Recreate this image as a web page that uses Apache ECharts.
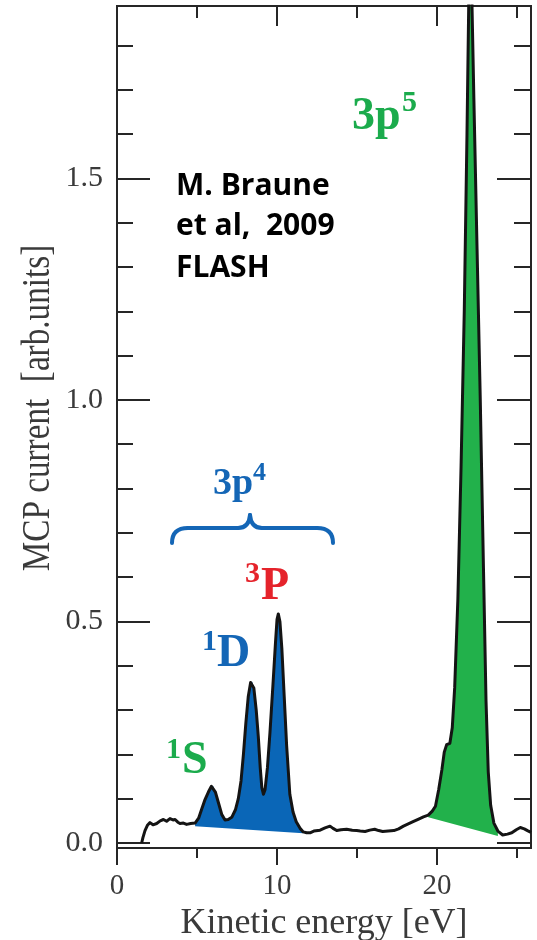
<!DOCTYPE html>
<html>
<head>
<meta charset="utf-8">
<script src="https://cdn.jsdelivr.net/npm/echarts@6/dist/echarts.min.js"></script>
<style>
  html, body { margin: 0; padding: 0; background: #ffffff; }
  #chart { width: 537px; height: 940px; }
</style>
</head>
<body>
<div id="chart"></div>
<script>
// Photoelectron spectrum: MCP current vs kinetic energy
const energyEv = [
  1.54, 1.62, 1.75, 1.9, 2.06, 2.25, 2.48, 2.7, 2.9, 3.1, 3.31, 3.5, 3.63, 3.8, 3.94, 4.15, 4.35, 4.6, 4.88,
  5.1, 5.29, 5.5, 5.71, 5.9, 6.02, 6.15, 6.33, 6.55, 6.75, 6.95, 7.17, 7.4, 7.58, 7.75, 7.9, 8.05, 8.2, 8.35,
  8.45, 8.55, 8.7, 8.83, 8.95, 9.05, 9.15, 9.25, 9.4, 9.56, 9.75, 9.9, 10.0, 10.08, 10.18, 10.3, 10.45, 10.6,
  10.8, 11.0, 11.2, 11.44, 11.64, 11.85, 12.06, 12.3, 12.69, 13.0, 13.31, 13.5, 13.73, 14.0, 14.35, 14.7,
  14.98, 15.2, 15.5, 15.8, 16.1, 16.35, 16.6, 16.95, 17.3, 17.6, 17.9, 18.2, 18.5, 18.85, 19.15, 19.45, 19.7,
  19.9, 20.1, 20.3, 20.45, 20.6, 20.8, 20.95, 21.1, 21.3, 21.5, 21.7, 21.87, 22.0, 22.07, 22.15, 22.3, 22.5,
  22.7, 22.9, 23.06, 23.2, 23.35, 23.55, 23.8, 24.1, 24.4, 24.67, 24.95, 25.2, 25.45, 25.65, 25.87
];
const mcpCurrent = [
  0.0, 0.012, 0.028, 0.040, 0.046, 0.041, 0.044, 0.050, 0.053, 0.049, 0.055, 0.052, 0.053, 0.047, 0.044, 0.045, 0.042, 0.044, 0.045,
  0.056, 0.076, 0.098, 0.115, 0.128, 0.128, 0.115, 0.092, 0.064, 0.052, 0.053, 0.058, 0.075, 0.100, 0.14, 0.20, 0.27, 0.33, 0.362,
  0.364, 0.35, 0.30, 0.24, 0.17, 0.125, 0.11, 0.12, 0.17, 0.25, 0.36, 0.45, 0.505, 0.517, 0.50, 0.44, 0.33, 0.22,
  0.11, 0.07, 0.048, 0.033, 0.025, 0.023, 0.023, 0.027, 0.029, 0.034, 0.038, 0.033, 0.028, 0.030, 0.031, 0.029,
  0.028, 0.027, 0.026, 0.029, 0.031, 0.028, 0.026, 0.027, 0.028, 0.032, 0.038, 0.043, 0.048, 0.054, 0.059, 0.063, 0.072,
  0.083, 0.12, 0.165, 0.205, 0.222, 0.225, 0.26, 0.35, 0.55, 0.85, 1.2, 1.6, 1.95, 2.08, 1.95, 1.68, 1.34,
  1.0, 0.62, 0.32, 0.16, 0.085, 0.045, 0.027, 0.018, 0.020, 0.023, 0.030, 0.035, 0.032, 0.028, 0.024
];

// Axis ticks and labels
const xMajorTicks = [0, 10, 20];
const xMinorTicks = [5, 15, 25];
const xTickLabels = ['0', '10', '20'];
const yMajorTicks = [0, 0.5, 1.0, 1.5];
const yMinorTicks = [0.1, 0.2, 0.3, 0.4, 0.6, 0.7, 0.8, 0.9, 1.1, 1.2, 1.3, 1.4, 1.6, 1.7, 1.8];
const yTickLabels = ['0.0', '0.5', '1.0', '1.5'];

// Shaded peak groups: straight baseline [start, end] under each group
const band3p4 = [[4.88, 0.038], [11.64, 0.022]];
const band3p5 = [[19.45, 0.058], [23.8, 0.016]];

const X_MIN = 0, X_MAX = 25.87;
const Y_MIN = -0.0113, Y_MAX = 1.889;

const SERIF = '"Liberation Serif", "Times New Roman", serif';
const AXIS_COLOR = '#262626';
const TEXT_GRAY = '#3a3a3a';
const BLUE = '#1466b6';
const GREEN = '#1bab4c';
const RED = '#e5232b';

function labelFor(list, labels, v) {
  const i = list.findIndex(t => Math.abs(t - v) < 1e-9);
  return i >= 0 ? labels[i] : '';
}

function xAxisDef(position, ticks, len, inside, withLabels) {
  const a = {
    type: 'value', min: X_MIN, max: X_MAX, position: position,
    axisLine: { show: true, onZero: false, lineStyle: { color: AXIS_COLOR, width: 2 } },
    axisTick: { show: true, inside: inside, length: len, customValues: ticks,
                lineStyle: { color: AXIS_COLOR, width: 2 } },
    axisLabel: { show: false },
    splitLine: { show: false }
  };
  if (withLabels) {
    a.axisLabel = {
      show: true, customValues: xMajorTicks, margin: 24,
      formatter: v => labelFor(xMajorTicks, xTickLabels, v),
      fontFamily: SERIF, fontSize: 29, color: TEXT_GRAY
    };
    a.name = 'Kinetic energy [eV]';
    a.nameLocation = 'middle';
    a.nameGap = 54;
    a.nameTextStyle = { fontFamily: SERIF, fontSize: 36, color: TEXT_GRAY };
  }
  return a;
}

function yAxisDef(position, ticks, len, withLabels) {
  const a = {
    type: 'value', min: Y_MIN, max: Y_MAX, position: position,
    axisLine: { show: true, onZero: false, lineStyle: { color: AXIS_COLOR, width: 2 } },
    axisTick: { show: true, inside: true, length: len, customValues: ticks,
                lineStyle: { color: AXIS_COLOR, width: 2 } },
    axisLabel: { show: false },
    splitLine: { show: false }
  };
  if (withLabels) {
    a.axisLabel = {
      show: true, customValues: yMajorTicks, margin: 14,
      formatter: v => labelFor(yMajorTicks, yTickLabels, v),
      fontFamily: SERIF, fontSize: 30, color: TEXT_GRAY
    };
  }
  return a;
}

// Filled polygon between the trace and a straight baseline
function bandRenderer(band) {
  return function (params, api) {
    const s = band[0], e = band[1];
    const pts = [api.coord(s)];
    energyEv.forEach((x, i) => {
      if (x >= s[0] && x <= e[0]) pts.push(api.coord([x, mcpCurrent[i]]));
    });
    pts.push(api.coord(e));
    return { type: 'polygon', shape: { points: pts }, style: { fill: api.visual('color') } };
  };
}

// Bold serif term symbol piece, positioned by its baseline
function termText(x, baseline, text, size, color) {
  return {
    type: 'text', x: x, y: baseline - 0.34 * size, z: 100,
    style: { text: text, font: 'bold ' + size + 'px ' + SERIF, fill: color,
             textAlign: 'left', textVerticalAlign: 'middle' }
  };
}

// Curly brace grouping the 3p4 peaks
function braceParts(color) {
  const st = { stroke: color, lineWidth: 4, fill: null, lineCap: 'round' };
  const seg = (shape) => ({ type: 'bezierCurve', z: 100, shape: shape, style: st });
  const line = (shape) => ({ type: 'line', z: 100, shape: shape, style: st });
  return [
    seg({ x1: 172, y1: 543, x2: 188, y2: 528, cpx1: 172, cpy1: 528 }),
    line({ x1: 188, y1: 528, x2: 238, y2: 528 }),
    seg({ x1: 238, y1: 528, x2: 250, y2: 515, cpx1: 249, cpy1: 528 }),
    seg({ x1: 250, y1: 515, x2: 262, y2: 528, cpx1: 251, cpy1: 528 }),
    line({ x1: 262, y1: 528, x2: 317, y2: 528 }),
    seg({ x1: 317, y1: 528, x2: 333, y2: 543, cpx1: 333, cpy1: 528 })
  ];
}

const chart = echarts.init(document.getElementById('chart'), null, { renderer: 'canvas' });

chart.setOption({
  animation: false,
  backgroundColor: '#ffffff',
  grid: { left: 117, right: 6, top: 6, bottom: 92, containLabel: false, outerBoundsMode: 'none' },
  xAxis: [
    xAxisDef('bottom', xMajorTicks, 17, false, true),
    xAxisDef('bottom', xMinorTicks, 10, false, false),
    xAxisDef('top', [10, 20], 20, true, false),
    xAxisDef('top', xMinorTicks, 12, true, false)
  ],
  yAxis: [
    yAxisDef('left', yMajorTicks, 33, true),
    yAxisDef('left', yMinorTicks, 16, false),
    yAxisDef('right', yMajorTicks, 34, false),
    yAxisDef('right', yMinorTicks, 17, false)
  ],
  series: [
    {
      type: 'custom', name: '3p4 band', xAxisIndex: 0, yAxisIndex: 0, clip: true, z: 2,
      itemStyle: { color: '#0a66b7' },
      renderItem: bandRenderer(band3p4), data: [band3p4[0]]
    },
    {
      type: 'custom', name: '3p5 band', xAxisIndex: 0, yAxisIndex: 0, clip: true, z: 2,
      itemStyle: { color: '#22b14b' },
      renderItem: bandRenderer(band3p5), data: [band3p5[0]]
    },
    {
      type: 'line', name: 'MCP current', xAxisIndex: 0, yAxisIndex: 0, z: 5,
      showSymbol: false, clip: true,
      lineStyle: { color: '#141414', width: 3, join: 'round' },
      data: energyEv.map((x, i) => [x, mcpCurrent[i]])
    }
  ],
  graphic: [
    {
      type: 'text', x: 38, y: 408, rotation: Math.PI / 2, scaleX: 0.83, z: 100,
      style: { text: 'MCP current  [arb.units]', font: '40px ' + SERIF, fill: TEXT_GRAY,
               textAlign: 'center', textVerticalAlign: 'middle' }
    },
    {
      type: 'text', x: 176, y: 186, z: 100,
      style: { text: 'M. Braune', font: 'bold 30px "Open Sans", sans-serif', fill: '#000',
               textAlign: 'left', textVerticalAlign: 'middle' }
    },
    {
      type: 'text', x: 176, y: 226, z: 100,
      style: { text: 'et al,  2009', font: 'bold 30px "Open Sans", sans-serif', fill: '#000',
               textAlign: 'left', textVerticalAlign: 'middle' }
    },
    {
      type: 'text', x: 176, y: 268, z: 100,
      style: { text: 'FLASH', font: 'bold 30px "Open Sans", sans-serif', fill: '#000',
               textAlign: 'left', textVerticalAlign: 'middle' }
    },
    termText(352, 133, '3p', 46, GREEN),
    termText(402, 113, '5', 30, GREEN),
    termText(213, 497, '3p', 38, BLUE),
    termText(253, 482, '4', 26, BLUE),
    ...braceParts(BLUE),
    termText(245, 584, '3', 30, RED),
    termText(261, 603, 'P', 46, RED),
    termText(202, 652, '1', 30, BLUE),
    termText(217, 670, 'D', 46, BLUE),
    termText(166, 760, '1', 30, GREEN),
    termText(182, 777, 'S', 46, GREEN)
  ]
});
</script>
</body>
</html>
